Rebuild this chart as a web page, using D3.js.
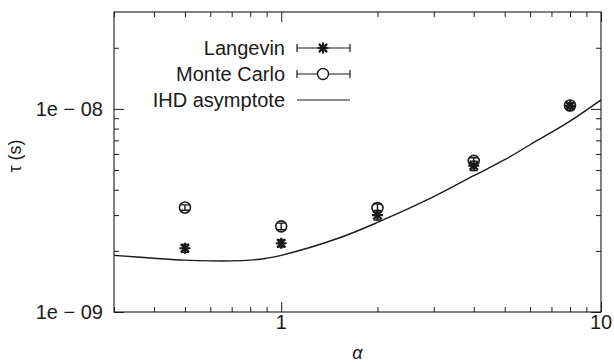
<!DOCTYPE html>
<html>
<head>
<meta charset="utf-8">
<script src="https://cdn.jsdelivr.net/npm/d3@7"></script>
<style>
  body { margin: 0; background: #fff; }
  svg { display: block; font-family: "Liberation Sans", Arial, Helvetica, sans-serif; }
</style>
</head>
<body>
<svg id="chart" width="614" height="364"></svg>
<script>
// data
const alphas = [0.5, 1, 2, 4, 8];
const langevin = [2.06e-9, 2.18e-9, 3.0e-9, 5.25e-9, 1.035e-8];
const langevinErr = [0.09e-9, 0.09e-9, 0.16e-9, 0.28e-9, 0.35e-9];
const monteCarlo = [3.27e-9, 2.64e-9, 3.25e-9, 5.55e-9, 1.04e-8];
const monteCarloErr = [0.1e-9, 0.1e-9, 0.15e-9, 0.2e-9, 0.3e-9];

const ihdAlpha = [0.3, 0.4, 0.5, 0.6, 0.7, 0.8, 0.9, 1, 1.5, 2, 3, 4, 5, 6, 8, 10];
const ihdTau = [1.9e-9, 1.84e-9, 1.8e-9, 1.785e-9, 1.785e-9, 1.8e-9, 1.84e-9, 1.9e-9, 2.3e-9, 2.76e-9, 3.7e-9, 4.69e-9, 5.62e-9, 6.66e-9, 8.7e-9, 1.107e-8];

const xMajor = [1, 10];
const xMinor = [0.3, 0.4, 0.5, 0.6, 0.7, 0.8, 0.9, 2, 3, 4, 5, 6, 7, 8, 9];
const yMajor = [1e-9, 1e-8];
const yMinor = [2e-9, 3e-9, 4e-9, 5e-9, 6e-9, 7e-9, 8e-9, 9e-9, 2e-8];

const legendNames = ["Langevin", "Monte Carlo", "IHD asymptote"];

const mLeft = 114, mRight = 601, mTop = 12, mBottom = 312;

const svg = d3.select("#chart");

const x = d3.scaleLog().domain([0.3, 10]).range([mLeft, mRight]);
const y = d3.scaleLog().domain([1e-9, 3e-8]).range([mBottom, mTop]);

const ink = "#1a1a1a";

// frame
svg.append("rect")
    .attr("x", mLeft).attr("y", mTop)
    .attr("width", mRight - mLeft).attr("height", mBottom - mTop)
    .attr("fill", "none").attr("stroke", ink).attr("stroke-width", 1.1);

function ticks(axis, vals, size, tr) {
    svg.append("g")
        .attr("transform", tr)
        .call(axis.tickValues(vals).tickSize(-size).tickFormat(""))
        .call(g => g.select(".domain").remove())
        .call(g => g.selectAll("line").attr("stroke", ink));
}

// inward ticks on all four sides
ticks(d3.axisBottom(x), xMajor, 10, `translate(0,${mBottom})`);
ticks(d3.axisBottom(x), xMinor, 5, `translate(0,${mBottom})`);
ticks(d3.axisTop(x), xMajor, 10, `translate(0,${mTop})`);
ticks(d3.axisTop(x), xMinor, 5, `translate(0,${mTop})`);
ticks(d3.axisLeft(y), yMajor, 10, `translate(${mLeft},0)`);
ticks(d3.axisLeft(y), yMinor, 5, `translate(${mLeft},0)`);
ticks(d3.axisRight(y), yMajor, 10, `translate(${mRight},0)`);
ticks(d3.axisRight(y), yMinor, 5, `translate(${mRight},0)`);

// tick labels
svg.append("g")
    .selectAll("text")
    .data(xMajor)
    .join("text")
    .attr("x", d => x(d))
    .attr("y", mBottom + 17)
    .attr("text-anchor", "middle")
    .attr("font-size", 20)
    .attr("fill", ink)
    .text(d => d);

const expo = d => "1e \u2212 " + String(-Math.round(Math.log10(d))).padStart(2, "0");
svg.append("g")
    .selectAll("text")
    .data(yMajor)
    .join("text")
    .attr("x", mLeft - 11)
    .attr("y", d => y(d) + 7)
    .attr("text-anchor", "end")
    .attr("font-size", 20)
    .attr("fill", ink)
    .text(expo);

// axis titles
svg.append("text")
    .attr("x", (mLeft + mRight) / 2)
    .attr("y", 359)
    .attr("text-anchor", "middle")
    .attr("font-size", 18)
    .attr("font-style", "italic")
    .attr("fill", ink)
    .text("\u03b1");

svg.append("text")
    .attr("transform", "translate(21,156) rotate(-90)")
    .attr("text-anchor", "middle")
    .attr("font-size", 18)
    .attr("fill", ink)
    .text("\u03c4 (s)");

// IHD curve
const line = d3.line()
    .x((d, i) => x(ihdAlpha[i]))
    .y(d => y(d))
    .curve(d3.curveCatmullRom);

svg.append("path")
    .attr("d", line(ihdTau))
    .attr("fill", "none")
    .attr("stroke", ink)
    .attr("stroke-width", 1.4);

// markers
function star(g, size) {
    const s = size, d = size * 0.75;
    g.append("path")
        .attr("d", `M${-s},0H${s}M0,${-s}V${s}M${-d},${-d}L${d},${d}M${-d},${d}L${d},${-d}`)
        .attr("stroke", ink).attr("stroke-width", 2.2).attr("fill", "none");
}
function circle(g, size) {
    g.append("circle").attr("r", size)
        .attr("fill", "none").attr("stroke", ink).attr("stroke-width", 1.6);
}

function errSeries(vals, errs, marker) {
    const g = svg.append("g");
    alphas.forEach((a, i) => {
        const cx = x(a), lo = y(vals[i] - errs[i]), hi = y(vals[i] + errs[i]);
        g.append("path")
            .attr("d", `M${cx},${lo}V${hi}M${cx - 4},${lo}H${cx + 4}M${cx - 4},${hi}H${cx + 4}`)
            .attr("stroke", ink).attr("stroke-width", 1.4).attr("fill", "none");
        marker(g.append("g").attr("transform", `translate(${cx},${y(vals[i])})`), 5.5);
    });
}
errSeries(langevin, langevinErr, star);
errSeries(monteCarlo, monteCarloErr, circle);

// legend
const legX = 285, s0 = 297, s1 = 350, rowY = [48, 74, 100];
const leg = svg.append("g");
legendNames.forEach((name, i) => {
    leg.append("text")
        .attr("x", legX).attr("y", rowY[i] + 7)
        .attr("text-anchor", "end")
        .attr("font-size", 20)
        .attr("fill", ink)
        .text(name);
    const p = i < 2
        ? `M${s0},${rowY[i]}H${s1}M${s0},${rowY[i] - 4}V${rowY[i] + 4}M${s1},${rowY[i] - 4}V${rowY[i] + 4}`
        : `M${s0},${rowY[i]}H${s1}`;
    leg.append("path").attr("d", p)
        .attr("stroke", ink).attr("stroke-width", 1.2).attr("fill", "none");
    if (i === 0) star(leg.append("g").attr("transform", `translate(323,${rowY[i]})`), 5.5);
    if (i === 1) {
        leg.append("circle").attr("cx", 323).attr("cy", rowY[i]).attr("r", 5.5)
            .attr("fill", "#fff").attr("stroke", ink).attr("stroke-width", 1.4);
    }
});
</script>
</body>
</html>
